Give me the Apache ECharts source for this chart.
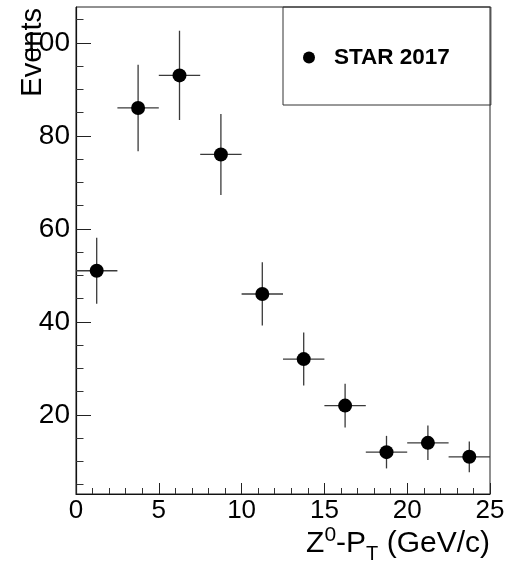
<!DOCTYPE html>
<html>
<head>
<meta charset="utf-8">
<script src="https://cdn.jsdelivr.net/npm/echarts@6/dist/echarts.min.js"></script>
<style>
  html, body { margin: 0; padding: 0; background: #fff; }
  #chart { width: 516px; height: 563px; }
</style>
</head>
<body>
<div id="chart"></div>
<script>
// Z0 transverse momentum spectrum, STAR 2017
const binCenters = [1.25, 3.75, 6.25, 8.75, 11.25, 13.75, 16.25, 18.75, 21.25, 23.75];
const binHalfWidths = [1.25, 1.25, 1.25, 1.25, 1.25, 1.25, 1.25, 1.25, 1.25, 1.25];
const events = [51, 86, 93, 76, 46, 32, 22, 12, 14, 11];
const eventErrors = [7.1, 9.3, 9.6, 8.7, 6.8, 5.7, 4.7, 3.5, 3.7, 3.3];

const yMajorTicks = [20, 40, 60, 80, 100];
const yMinorTicks = [5, 10, 15, 25, 30, 35, 45, 50, 55, 65, 70, 75, 85, 90, 95, 105];
const yRange = [3, 107.7];
const xRange = [0, 25];

const seriesName = 'STAR 2017';
const xTitle = '{b|Z}{sup|0}{b|-P}{sub|T}{b| (GeV/c)}';
const yTitle = 'Events';
const FONT = '"Liberation Sans", Arial, Helvetica, sans-serif';

const points = binCenters.map((x, i) => [x, events[i], binHalfWidths[i], eventErrors[i]]);

const chart = echarts.init(document.getElementById('chart'), null, { renderer: 'canvas' });

chart.setOption({
  animation: false,
  backgroundColor: '#fff',
  grid: {
    left: 76, right: 26, top: 7, bottom: 69,
    containLabel: false,
    outerBoundsMode: 'none',
    show: true, borderColor: '#222', borderWidth: 1, backgroundColor: 'transparent'
  },
  legend: {
    data: [seriesName],
    left: 283, top: 7,
    orient: 'vertical',
    padding: [39, 41, 36, 20],
    borderColor: '#333', borderWidth: 1,
    itemWidth: 40, itemHeight: 12, itemGap: 0,
    icon: 'circle',
    itemStyle: { color: '#000', opacity: 1 },
    textStyle: { fontSize: 22.5, fontWeight: 'bold', color: '#000', fontFamily: FONT }
  },
  // axis titles
  graphic: [
    {
      type: 'text',
      right: 26, top: 525,
      style: {
        text: xTitle,
        fill: '#000',
        font: '30px ' + FONT,
        rich: {
          b: { fontSize: 30, lineHeight: 30, padding: [0, 0, 5, 0], verticalAlign: 'bottom', fontFamily: FONT, fill: '#000' },
          sup: { fontSize: 21, lineHeight: 21, padding: [0, 0, 18, 0], verticalAlign: 'bottom', fontFamily: FONT, fill: '#000' },
          sub: { fontSize: 20, lineHeight: 20, padding: [0, 0, 0, 0], verticalAlign: 'bottom', fontFamily: FONT, fill: '#000' }
        }
      }
    },
    {
      type: 'text',
      left: 18, top: 8,
      rotation: Math.PI / 2,
      style: {
        text: yTitle,
        fill: '#000',
        font: '29px ' + FONT
      }
    }
  ],
  xAxis: {
    type: 'value',
    min: xRange[0], max: xRange[1], interval: 5,
    axisLine: { onZero: false, lineStyle: { color: '#111', width: 1.2 } },
    axisTick: { inside: true, length: 11, lineStyle: { color: '#222', width: 1 } },
    minorTick: { show: true, splitNumber: 5, length: 6, lineStyle: { color: '#333', width: 1 } },
    axisLabel: { fontSize: 26, margin: 4, color: '#000', fontFamily: FONT },
    splitLine: { show: false }
  },
  yAxis: [
    {
      type: 'value',
      min: yRange[0], max: yRange[1],
      position: 'left',
      axisLine: { onZero: false, lineStyle: { color: '#111', width: 1.2 } },
      axisTick: { inside: true, length: 15, customValues: yMajorTicks, lineStyle: { color: '#222', width: 1 } },
      axisLabel: { fontSize: 28, margin: 6, color: '#000', fontFamily: FONT, customValues: yMajorTicks },
      splitLine: { show: false }
    },
    {
      type: 'value',
      min: yRange[0], max: yRange[1],
      position: 'left',
      axisLine: { show: false },
      axisTick: { inside: true, length: 7.5, customValues: yMinorTicks, lineStyle: { color: '#333', width: 1 } },
      axisLabel: { show: false },
      splitLine: { show: false }
    }
  ],
  series: [
    {
      type: 'custom',
      name: 'errors',
      xAxisIndex: 0, yAxisIndex: 0,
      data: points,
      encode: { x: 0, y: 1 },
      z: 2,
      renderItem: function (params, api) {
        const x = api.value(0), y = api.value(1), ex = api.value(2), ey = api.value(3);
        const l = api.coord([x - ex, y]);
        const r = api.coord([x + ex, y]);
        const t = api.coord([x, y + ey]);
        const b = api.coord([x, y - ey]);
        const style = { stroke: '#3a3a3a', lineWidth: 1.3 };
        return {
          type: 'group',
          children: [
            { type: 'line', shape: { x1: l[0], y1: l[1], x2: r[0], y2: r[1] }, style: style },
            { type: 'line', shape: { x1: t[0], y1: t[1], x2: b[0], y2: b[1] }, style: style }
          ]
        };
      }
    },
    {
      type: 'scatter',
      name: seriesName,
      xAxisIndex: 0, yAxisIndex: 0,
      data: points.map(p => [p[0], p[1]]),
      symbol: 'circle',
      symbolSize: 14,
      itemStyle: { color: '#000', opacity: 1 },
      z: 3
    }
  ]
});
</script>
</body>
</html>
